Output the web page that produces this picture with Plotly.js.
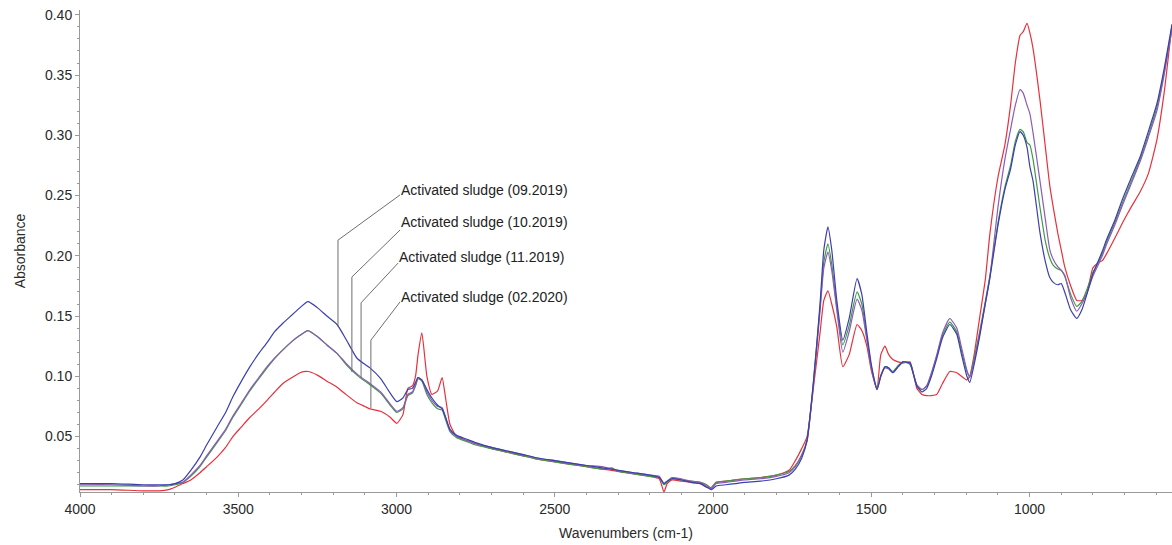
<!DOCTYPE html>
<html>
<head>
<meta charset="utf-8">
<script src="https://cdn.plot.ly/plotly-3.0.1.min.js"></script>
<style>html,body{margin:0;padding:0;background:#fff;}#chart{width:1172px;height:545px;}</style>
</head>
<body>
<div id="chart"></div>
<script>
// Wavenumbers (cm-1)
const wavenumbers = [
 4000, 3900, 3800, 3750, 3720, 3700,
 3675, 3650, 3621, 3600, 3567, 3540, 3517, 3490, 3463, 3435, 3409, 3385, 3359, 3330, 3305,
 3280, 3250, 3220, 3188, 3160, 3125, 3100, 3084, 3050, 3020, 2999,
 2980, 2964, 2950, 2940, 2932, 2920, 2904, 2888, 2870, 2856, 2845, 2831,
 2810, 2780, 2750, 2700, 2650, 2600, 2550, 2500, 2450, 2400, 2350, 2320, 2300, 2250, 2200, 2170, 2155, 2145, 2130, 2100, 2070, 2040, 2020, 2005, 1990, 1960, 1930, 1900, 1850, 1800, 1760, 1740, 1720,
 1703, 1684, 1662, 1650, 1637, 1625, 1609, 1590, 1570, 1545, 1530, 1514, 1500, 1482,
 1470, 1457, 1445, 1432, 1415, 1400, 1378, 1365, 1356, 1340, 1325, 1310, 1293, 1275, 1252, 1230, 1215, 1198, 1189,
 1175, 1157, 1140, 1125, 1100, 1078, 1060, 1045, 1030, 1020, 1008,
 999, 989, 967, 950, 936, 925, 911, 900, 889, 870, 851, 835, 819, 800, 784, 770, 756, 730, 705, 680, 651, 625, 598, 575, 550
];

// Activated sludge (09.2019) - blue
const sludge0919 = [
 0.011, 0.011, 0.010, 0.010, 0.010, 0.011,
 0.014, 0.022, 0.033, 0.043, 0.058, 0.070, 0.083, 0.096, 0.108, 0.119, 0.128, 0.137, 0.144, 0.151, 0.157,
 0.162, 0.157, 0.150, 0.143, 0.131, 0.115, 0.110, 0.107, 0.098, 0.086, 0.079,
 0.082, 0.089, 0.090, 0.095, 0.099, 0.097, 0.089, 0.082, 0.076, 0.073, 0.066, 0.056,
 0.051, 0.048, 0.045, 0.041, 0.038, 0.035, 0.032, 0.030, 0.028, 0.026, 0.024, 0.023, 0.022, 0.020, 0.018, 0.016, 0.011, 0.013, 0.015, 0.014, 0.012, 0.011, 0.008, 0.006, 0.009, 0.010, 0.011, 0.012, 0.013, 0.015, 0.018, 0.023, 0.032,
 0.047, 0.092, 0.160, 0.205, 0.224, 0.205, 0.163, 0.130, 0.148, 0.181, 0.168, 0.136, 0.110, 0.089,
 0.100, 0.108, 0.107, 0.103, 0.108, 0.112, 0.111, 0.100, 0.092, 0.087, 0.090, 0.100, 0.115, 0.132, 0.143, 0.135, 0.118, 0.100, 0.095,
 0.110, 0.134, 0.160, 0.182, 0.225, 0.255, 0.272, 0.292, 0.303, 0.300, 0.290,
 0.274, 0.262, 0.219, 0.195, 0.182, 0.178, 0.176, 0.177, 0.170, 0.155, 0.148, 0.155, 0.168, 0.185, 0.195, 0.204, 0.214, 0.230, 0.248, 0.264, 0.282, 0.303, 0.326, 0.355, 0.392
];

// Activated sludge (10.2019) - green
const sludge1019 = [
 0.009, 0.009, 0.009, 0.009, 0.009, 0.010,
 0.012, 0.017, 0.025, 0.033, 0.045, 0.055, 0.066, 0.077, 0.088, 0.098, 0.107, 0.115, 0.122, 0.129, 0.134,
 0.138, 0.133, 0.126, 0.119, 0.110, 0.101, 0.096, 0.093, 0.086, 0.076, 0.070,
 0.073, 0.084, 0.086, 0.092, 0.098, 0.096, 0.085, 0.078, 0.073, 0.072, 0.064, 0.054,
 0.049, 0.046, 0.043, 0.040, 0.037, 0.034, 0.031, 0.029, 0.027, 0.025, 0.023, 0.024, 0.021, 0.019, 0.017, 0.016, 0.010, 0.012, 0.015, 0.014, 0.013, 0.012, 0.010, 0.007, 0.012, 0.013, 0.014, 0.015, 0.016, 0.018, 0.021, 0.026, 0.035,
 0.047, 0.092, 0.157, 0.195, 0.210, 0.193, 0.158, 0.126, 0.142, 0.170, 0.160, 0.132, 0.108, 0.090,
 0.101, 0.108, 0.107, 0.104, 0.109, 0.112, 0.110, 0.100, 0.092, 0.089, 0.092, 0.102, 0.117, 0.134, 0.145, 0.137, 0.121, 0.104, 0.100,
 0.115, 0.138, 0.162, 0.184, 0.227, 0.257, 0.275, 0.295, 0.305, 0.303, 0.294,
 0.292, 0.280, 0.240, 0.212, 0.198, 0.192, 0.189, 0.188, 0.183, 0.168, 0.158, 0.162, 0.172, 0.186, 0.194, 0.202, 0.212, 0.228, 0.245, 0.261, 0.280, 0.300, 0.323, 0.352, 0.390
];

// Activated sludge (11.2019) - purple
const sludge1119 = [
 0.010, 0.010, 0.009, 0.009, 0.010, 0.011,
 0.012, 0.018, 0.026, 0.034, 0.046, 0.056, 0.067, 0.078, 0.089, 0.099, 0.108, 0.115, 0.122, 0.129, 0.134,
 0.138, 0.133, 0.126, 0.119, 0.111, 0.102, 0.097, 0.094, 0.087, 0.077, 0.071,
 0.074, 0.085, 0.087, 0.093, 0.099, 0.097, 0.087, 0.080, 0.075, 0.074, 0.066, 0.055,
 0.050, 0.047, 0.044, 0.041, 0.038, 0.035, 0.032, 0.030, 0.028, 0.026, 0.025, 0.023, 0.022, 0.020, 0.018, 0.017, 0.011, 0.013, 0.016, 0.015, 0.013, 0.012, 0.009, 0.007, 0.011, 0.012, 0.013, 0.014, 0.015, 0.017, 0.020, 0.025, 0.034,
 0.046, 0.090, 0.154, 0.190, 0.203, 0.188, 0.155, 0.120, 0.137, 0.164, 0.155, 0.130, 0.107, 0.089,
 0.100, 0.107, 0.106, 0.103, 0.108, 0.112, 0.111, 0.100, 0.093, 0.089, 0.092, 0.103, 0.118, 0.136, 0.148, 0.140, 0.124, 0.105, 0.099,
 0.113, 0.136, 0.160, 0.183, 0.240, 0.280, 0.305, 0.325, 0.338, 0.335, 0.325,
 0.318, 0.302, 0.262, 0.230, 0.205, 0.197, 0.191, 0.188, 0.184, 0.165, 0.154, 0.160, 0.169, 0.183, 0.192, 0.200, 0.210, 0.226, 0.243, 0.259, 0.278, 0.298, 0.320, 0.350, 0.388
];

// Activated sludge (02.2020) - red
const sludge0220 = [
 0.006, 0.006, 0.005, 0.005, 0.006, 0.008,
 0.011, 0.014, 0.020, 0.025, 0.033, 0.041, 0.050, 0.058, 0.066, 0.073, 0.080, 0.087, 0.094, 0.099, 0.103,
 0.104, 0.101, 0.096, 0.091, 0.085, 0.078, 0.075, 0.073, 0.071, 0.066, 0.061,
 0.068, 0.090, 0.092, 0.100, 0.118, 0.136, 0.100, 0.085, 0.088, 0.099, 0.082, 0.060,
 0.050, 0.047, 0.044, 0.040, 0.037, 0.034, 0.031, 0.029, 0.027, 0.025, 0.023, 0.022, 0.021, 0.019, 0.017, 0.015, 0.004, 0.011, 0.014, 0.013, 0.012, 0.011, 0.008, 0.008, 0.012, 0.013, 0.014, 0.015, 0.016, 0.018, 0.022, 0.030, 0.040,
 0.050, 0.088, 0.136, 0.163, 0.171, 0.160, 0.141, 0.108, 0.118, 0.143, 0.138, 0.125, 0.105, 0.090,
 0.118, 0.125, 0.118, 0.114, 0.112, 0.111, 0.112, 0.100, 0.090, 0.085, 0.084, 0.084, 0.085, 0.094, 0.104, 0.103, 0.100, 0.097, 0.100,
 0.118, 0.150, 0.180, 0.219, 0.265, 0.292, 0.325, 0.360, 0.383, 0.386, 0.393,
 0.385, 0.372, 0.329, 0.290, 0.258, 0.240, 0.219, 0.205, 0.191, 0.175, 0.163, 0.163, 0.169, 0.190, 0.194, 0.196, 0.202, 0.215, 0.228, 0.240, 0.253, 0.268, 0.296, 0.335, 0.392
];

const seriesNames = ["Activated sludge (09.2019)", "Activated sludge (10.2019)", "Activated sludge (11.2019)", "Activated sludge (02.2020)"];
const seriesValues = [sludge0919, sludge1019, sludge1119, sludge0220];
const seriesColors = ["#3b3fae", "#3f9a45", "#8a5cb6", "#e8303c"];

// Leader-line annotation anchors (data coordinates)
const labelTextY = [0.2545, 0.2280, 0.1990, 0.1660];
const labelTextX = [2989, 2989, 2995, 2989];
const elbowX = [3185, 3141, 3112, 3081];
const elbowY = [0.213, 0.1824, 0.161, 0.130];
const curveY = [0.141, 0.1036, 0.0986, 0.0737];
const lineStartY = [0.2505, 0.2214, 0.194, 0.1617];

const traces = seriesValues.map((vals, i) => ({
  x: wavenumbers, y: vals, type: 'scatter', mode: 'lines',
  name: seriesNames[i], line: {color: seriesColors[i], width: 1.2, shape: 'spline', smoothing: 0.5}, showlegend: false
}));
const order = [3, 1, 2, 0];
const orderedTraces = order.map(i => traces[i]);

const textFont = {family: 'Liberation Sans, Arial, sans-serif', size: 14, color: '#222'};
const shapes = [];
const annotations = [];
for (let i = 0; i < seriesNames.length; i++) {
  shapes.push({type: 'line', xref: 'x', yref: 'y', x0: labelTextX[i], y0: lineStartY[i], x1: elbowX[i], y1: elbowY[i], line: {color: '#6e6e6e', width: 1}});
  shapes.push({type: 'line', xref: 'x', yref: 'y', x0: elbowX[i], y0: elbowY[i], x1: elbowX[i], y1: curveY[i], line: {color: '#6e6e6e', width: 1}});
  annotations.push({x: labelTextX[i], y: labelTextY[i], xref: 'x', yref: 'y', text: seriesNames[i], showarrow: false,
    xanchor: 'left', yanchor: 'middle', xshift: -1, font: textFont});
}

const axisFont = {family: 'Liberation Sans, Arial, sans-serif', size: 14, color: '#2a2a2a'};
const layout = {
  width: 1172, height: 545,
  margin: {l: 80, r: 0, t: 10, b: 53},
  paper_bgcolor: '#fff', plot_bgcolor: '#fff',
  font: axisFont,
  xaxis: {
    range: [4000, 550], showgrid: false, zeroline: false,
    showline: true, linecolor: '#9a9a9a', linewidth: 1,
    ticks: 'outside', ticklen: 4, tickcolor: '#9a9a9a',
    tickmode: 'array', tickvals: [4000, 3500, 3000, 2500, 2000, 1500, 1000],
    ticktext: ['4000', '3500', '3000', '2500', '2000', '1500', '1000'],
    minor: {dtick: 100, ticks: 'outside', ticklen: 2, tickcolor: '#9a9a9a', showgrid: false},
    tickfont: axisFont,
    title: {text: 'Wavenumbers (cm-1)', font: axisFont, standoff: 12}
  },
  yaxis: {
    range: [0.004, 0.404], showgrid: false, zeroline: false,
    showline: true, linecolor: '#9a9a9a', linewidth: 1,
    ticks: 'outside', ticklen: 4, tickcolor: '#9a9a9a',
    tickmode: 'array', tickvals: [0.05, 0.10, 0.15, 0.20, 0.25, 0.30, 0.35, 0.40],
    ticktext: ['0.05', '0.10', '0.15', '0.20', '0.25', '0.30', '0.35', '0.40'],
    minor: {dtick: 0.01, tick0: 0, ticks: 'outside', ticklen: 2, tickcolor: '#9a9a9a', showgrid: false},
    tickfont: axisFont,
    title: {text: 'Absorbance', font: axisFont, standoff: 16}
  },
  shapes: shapes,
  annotations: annotations,
  showlegend: false
};

Plotly.newPlot('chart', orderedTraces, layout, {displayModeBar: false, staticPlot: true});
</script>
</body>
</html>
